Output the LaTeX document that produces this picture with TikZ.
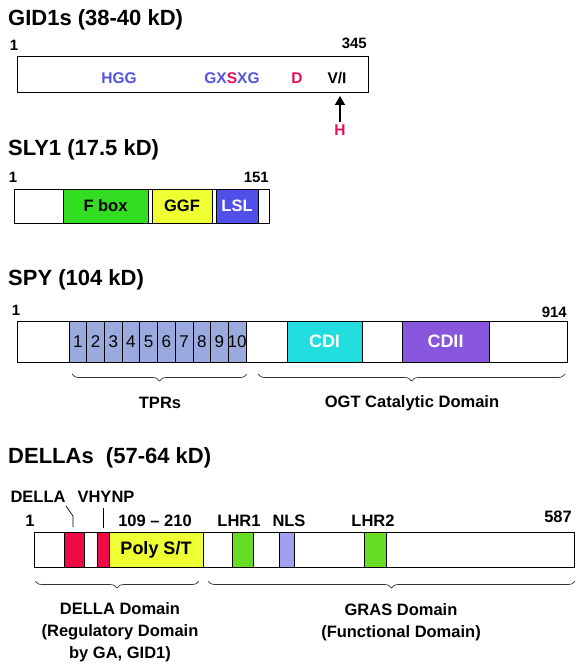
\documentclass[tikz,border=0pt]{standalone}
\usepackage{fontspec}
\setmainfont{Liberation Sans}
\usetikzlibrary{decorations.pathreplacing,arrows.meta}
\definecolor{blu}{HTML}{5555DD}
\definecolor{crim}{HTML}{E0105A}
\definecolor{fgreen}{HTML}{33DD22}
\definecolor{fyellow}{HTML}{EEFF33}
\definecolor{lsl}{HTML}{5050E8}
\definecolor{tpr}{HTML}{9AAADE}
\definecolor{cdi}{HTML}{22DDDD}
\definecolor{cdii}{HTML}{8855DD}
\definecolor{della}{HTML}{EE0A44}
\definecolor{lhr}{HTML}{66DD22}
\definecolor{nls}{HTML}{A0A0F0}
\begin{document}
\begin{tikzpicture}[x=1pt,y=-1pt,
  title/.style={font=\fontsize{22}{26}\selectfont\bfseries, anchor=west, inner sep=0pt},
  num/.style={font=\fontsize{15}{18}\selectfont\bfseries, inner sep=0pt},
  dnum/.style={font=\fontsize{16.5}{19}\selectfont\bfseries, inner sep=0pt},
  motif/.style={font=\fontsize{15.5}{18}\selectfont\bfseries, inner sep=0pt},
  lbl/.style={font=\fontsize{16.5}{20}\selectfont\bfseries, inner sep=0pt, align=center},
  seg/.style={draw=black, line width=0.8pt},
  segtxt/.style={font=\fontsize{16.5}{19}\selectfont\bfseries, inner sep=0pt},
  bigtxt/.style={font=\fontsize{18}{21}\selectfont\bfseries, inner sep=0pt},
  tprn/.style={font=\fontsize{17}{19}\selectfont, inner sep=0pt},
  brc/.style={draw=black!80, line width=0.7pt, decorate, decoration={brace, mirror, amplitude=7pt}},
  lead/.style={draw=black, line width=0.7pt}]
\useasboundingbox (0,0) rectangle (583,671);

% ---------- GID1s ----------
\node[title] (t1) at (8,20) {GID1s (38-40 kD)};
\node[num] (g1) at (14,45) {1};
\node[num, anchor=east] (g345) at (367,43) {345};
\draw[seg, fill=white] (17,56) rectangle (368,92);
\node[motif, text=blu] (hgg) at (119,78) {HGG};
\node[motif, text=blu] (gxsxg) at (232,78) {GX\textcolor{crim}{S}XG};
\node[motif, text=crim] (dd) at (297,78) {D};
\node[motif] (vi) at (337,78) {V/I};
\node[motif, text=crim] (hh) at (340,130) {H};
\coordinate (arrtip) at (340,96);
\draw[-{Triangle[length=9pt,width=10pt]}, line width=1.6pt] (hh.north) ++(0,-2) -- (arrtip);

% ---------- SLY1 ----------
\node[title] (t2) at (8,150) {SLY1 (17.5 kD)};
\node[num] (s1) at (13,177) {1};
\node[num, anchor=east] (s151) at (269,177) {151};
\draw[seg, fill=white] (14,189) rectangle (269,223);
\draw[seg, fill=fgreen] (63,189) rectangle (148,223) node[midway, segtxt] (fbox) {F box};
\draw[seg, fill=fyellow] (152,189) rectangle (212,223) node[midway, segtxt] (ggf) {GGF};
\draw[seg, fill=lsl] (216,189) rectangle (258,223) node[midway, segtxt, text=white] (lslt) {LSL};

% ---------- SPY ----------
\node[title] (t3) at (8,280) {SPY (104 kD)};
\node[num] (p1) at (16,310) {1};
\node[num, anchor=east] (p914) at (567,312) {914};
\draw[seg, fill=white] (17,321) rectangle (567,362);
\foreach \i in {1,...,10} {
  \pgfmathsetmacro{\xa}{69+(\i-1)*17.7}
  \pgfmathsetmacro{\xb}{69+\i*17.7}
  \draw[seg, fill=tpr] (\xa,321) rectangle (\xb,362) node[midway, tprn] (tpr\i) {\i};
}
\draw[seg, fill=cdi] (287,321) rectangle (362,362) node[midway, bigtxt, text=white] (cdit) {CDI};
\draw[seg, fill=cdii] (402,321) rectangle (489,362) node[midway, bigtxt, text=white] (cdiit) {CDII};
\draw[brc] (72,374) -- (247,374);
\draw[brc] (258,374) -- (565,374);
\node[lbl] (tprs) at (160,403) {TPRs};
\node[lbl] (ogt) at (412,403) {OGT Catalytic Domain};

% ---------- DELLAs ----------
\node[title] (t4) at (8,458) {DELLAs\ \ (57-64 kD)};
\node[dnum] (dlab) at (38,497) {DELLA};
\node[dnum] (vlab) at (106,497) {VHYNP};
\node[dnum] (d1) at (30,521) {1};
\node[dnum] (rng) at (155,521) {109 -- 210};
\node[dnum] (lhr1) at (239,521) {LHR1};
\node[dnum] (nlst) at (289,521) {NLS};
\node[dnum] (lhr2) at (373,521) {LHR2};
\node[dnum, anchor=east] (d587) at (572,517) {587};
\draw[seg, fill=white] (34,532) rectangle (574,567);
\draw[seg, fill=della] (64,532) rectangle (84,567);
\draw[seg, fill=della] (97,532) rectangle (109,567);
\draw[seg, fill=fyellow] (109,532) rectangle (203,567) node[midway, bigtxt] (poly) {Poly S/T};
\draw[seg, fill=lhr] (232,532) rectangle (253,567);
\draw[seg, fill=nls] (279,532) rectangle (294,567);
\draw[seg, fill=lhr] (364,532) rectangle (386,567);
\coordinate (dl1) at (66,506);
\coordinate (dl2) at (73,516);
\coordinate (dl3) at (73,527);
\draw[lead] (dl1) -- (dl2) -- (dl3);
\coordinate (vl1) at (103,508);
\coordinate (vl2) at (103,528);
\draw[lead] (vl1) -- (vl2);
\draw[brc] (35,581) -- (199,581);
\draw[brc] (208,581) -- (575,581);
\node[lbl] (dom1) at (120,632) {DELLA Domain\\[2pt](Regulatory Domain\\[2pt]by GA, GID1)};
\node[lbl] (dom2) at (401,622) {GRAS Domain\\[2pt](Functional Domain)};
\end{tikzpicture}
\end{document}
